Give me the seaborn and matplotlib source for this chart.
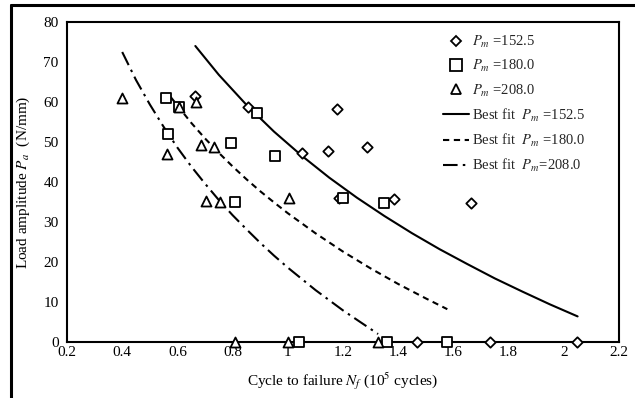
import numpy as np
import pandas as pd
import matplotlib
matplotlib.use("Agg")
import matplotlib.pyplot as plt
from matplotlib.lines import Line2D
from matplotlib.ticker import FuncFormatter
import seaborn as sns

# ---- data ----
d152_x = [0.662, 0.855, 1.05, 1.145, 1.178, 1.186, 1.287, 1.385, 1.665, 1.469, 1.731, 2.047]
d152_y = [61.5, 58.7, 47.3, 47.7, 58.2, 36.0, 48.8, 35.7, 34.8, 0, 0, 0]

s180_x = [0.56, 0.607, 0.567, 0.796, 0.89, 0.953, 0.81, 1.2, 1.35, 1.04, 1.36, 1.575]
s180_y = [61.0, 58.8, 52.0, 49.7, 57.3, 46.5, 35.0, 36.0, 34.7, 0, 0, 0]

t208_x = [0.4, 0.607, 0.669, 0.563, 0.684, 0.733, 1.004, 0.705, 0.756, 0.81, 1.0, 1.327]
t208_y = [61.0, 58.8, 60.0, 47.0, 49.2, 48.8, 36.0, 35.3, 35.0, 0, 0, 0]

fit152_x = [0.665, 0.75, 0.85, 0.95, 1.05, 1.15, 1.25, 1.35, 1.45, 1.55, 1.65, 1.75, 1.85, 1.95, 2.05]
fit152_y = [74.0, 66.8, 59.3, 52.6, 46.6, 41.1, 36.1, 31.5, 27.2, 23.2, 19.5, 15.9, 12.6, 9.4, 6.4]

fit180_x = [0.575, 0.65, 0.70, 0.75, 0.80, 0.85, 0.90, 0.95, 1.00, 1.10, 1.20, 1.30, 1.40, 1.50, 1.578]
fit180_y = [61.3, 54.8, 50.9, 47.3, 43.9, 40.7, 37.7, 34.9, 32.2, 27.2, 22.6, 18.4, 14.5, 10.9, 8.2]

fit208_x = [0.40, 0.45, 0.50, 0.55, 0.60, 0.65, 0.70, 0.75, 0.80, 0.85, 0.90, 0.95, 1.00, 1.10, 1.20, 1.327]
fit208_y = [72.5, 65.5, 59.4, 53.8, 48.6, 43.9, 39.6, 35.5, 31.7, 28.2, 24.8, 21.6, 18.6, 13.0, 7.9, 2.0]

series_labels = ["152.5", "180.0", "208.0"]
x_ticks = [0.2, 0.4, 0.6, 0.8, 1.0, 1.2, 1.4, 1.6, 1.8, 2.0, 2.2]
y_ticks = [0, 10, 20, 30, 40, 50, 60, 70, 80]

# ---- style ----
sns.set_theme(style="white")
plt.rcParams["font.family"] = ["Liberation Serif", "DejaVu Serif"]
plt.rcParams["mathtext.fontset"] = "stix"

fig = plt.figure(figsize=(6.35, 3.98), dpi=100)
ax = fig.add_axes([67/635, 56/398, 552/635, 320/398])

pts = pd.DataFrame({
    "x": d152_x + s180_x + t208_x,
    "y": d152_y + s180_y + t208_y,
    "Pm": [series_labels[0]] * len(d152_x) + [series_labels[1]] * len(s180_x) + [series_labels[2]] * len(t208_x),
})
markers = {series_labels[0]: "D", series_labels[1]: "s", series_labels[2]: "^"}
sizes = {series_labels[0]: 28, series_labels[1]: 60, series_labels[2]: 52}
for lab in series_labels:
    sub = pts[pts["Pm"] == lab]
    sns.scatterplot(data=sub, x="x", y="y", marker=markers[lab], s=sizes[lab],
                    facecolor="white", edgecolor="black", linewidth=1.3,
                    ax=ax, legend=False, zorder=4, clip_on=False)

fits = pd.DataFrame({
    "x": fit152_x + fit180_x + fit208_x,
    "y": fit152_y + fit180_y + fit208_y,
    "fit": [series_labels[0]] * len(fit152_x) + [series_labels[1]] * len(fit180_x) + [series_labels[2]] * len(fit208_x),
})
styles = {series_labels[0]: "-", series_labels[1]: (0, (3, 2.2)), series_labels[2]: (0, (7, 2.5, 1.2, 2.5))}
for lab in series_labels:
    sub = fits[fits["fit"] == lab]
    sns.lineplot(data=sub, x="x", y="y", color="black", linewidth=1.5,
                 linestyle=styles[lab], ax=ax, legend=False, sort=False, zorder=3)

for c in ax.collections:
    c.set_clip_on(False)

ax.set_xlim(0.2, 2.2)
ax.set_ylim(0, 80)
ax.set_xticks(x_ticks)
ax.set_yticks(y_ticks)
ax.xaxis.set_major_formatter(FuncFormatter(lambda v, p: "%g" % round(v, 2)))
ax.tick_params(axis="x", direction="in", length=4, width=1.2, colors="black", labelsize=11, pad=3, top=False)
ax.tick_params(axis="y", direction="in", length=0, colors="black", labelsize=11, pad=6)
for s in ax.spines.values():
    s.set_visible(True)
    s.set_color("black")
    s.set_linewidth(1.5)

ax.set_xlabel(r"Cycle to failure $N_f$ (10$^5$ cycles)", fontsize=11, color="black", labelpad=8)
ax.set_ylabel(r"Load amplitude $P_a$  (N/mm)", fontsize=11, color="black", labelpad=8)

handles = [
    Line2D([], [], marker="D", markersize=5, linestyle="none", markerfacecolor="white", markeredgecolor="black", markeredgewidth=1.3),
    Line2D([], [], marker="s", markersize=8, linestyle="none", markerfacecolor="white", markeredgecolor="black", markeredgewidth=1.3),
    Line2D([], [], marker="^", markersize=7.5, linestyle="none", markerfacecolor="white", markeredgecolor="black", markeredgewidth=1.3),
    Line2D([], [], color="black", linewidth=1.5, linestyle=styles[series_labels[0]]),
    Line2D([], [], color="black", linewidth=1.5, linestyle=styles[series_labels[1]]),
    Line2D([], [], color="black", linewidth=1.5, linestyle=styles[series_labels[2]]),
]
labels = [r"$P_m$ =" + series_labels[0], r"$P_m$ =" + series_labels[1], r"$P_m$ =" + series_labels[2],
          r"Best fit  $P_m$ =" + series_labels[0], r"Best fit  $P_m$ =" + series_labels[1],
          r"Best fit  $P_m$=" + series_labels[2]]
leg = ax.legend(handles, labels, loc="upper left", bbox_to_anchor=(0.67, 0.98), frameon=False,
                fontsize=10.5, handlelength=1.8, handletextpad=0.2, labelspacing=0.55, borderaxespad=0)

# outer figure border (top and left edges visible)
fig.add_artist(Line2D([11/635, 11/635], [0, 1 - 5/398], transform=fig.transFigure, color="black", linewidth=2.2))
fig.add_artist(Line2D([11/635, 1], [1 - 5/398, 1 - 5/398], transform=fig.transFigure, color="black", linewidth=2.2))

fig.savefig("out.png", dpi=100, facecolor="white")
